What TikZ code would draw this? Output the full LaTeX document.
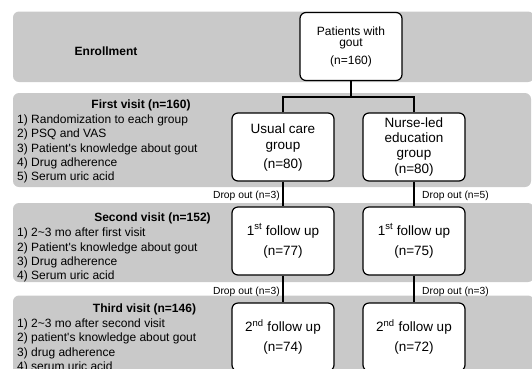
\documentclass[tikz,border=0pt]{standalone}
\usepackage{fontspec}
\setmainfont{Liberation Sans}
\usetikzlibrary{positioning}
\definecolor{bandgray}{RGB}{201,201,201}

\begin{document}
\begin{tikzpicture}[x=1pt, y=-1pt,
  band/.style={fill=bandgray, rounded corners=6pt},
  box/.style={draw, line width=1.2pt, rounded corners=6pt, fill=white, align=center,
    minimum width=102pt, minimum height=68pt, inner sep=1pt,
    font=\fontsize{13.5}{15.5}\selectfont},
  drop/.style={inner sep=1pt, font=\fontsize{10.3}{12}\selectfont},
  visit/.style={anchor=north west, inner sep=0pt, align=left,
    font=\fontsize{12}{14.3}\selectfont},
  vtitle/.style={inner sep=0pt, font=\bfseries\fontsize{12}{14.3}\selectfont}]

\useasboundingbox (0,0) rectangle (532,368);

% grey bands
\fill [band] (13,11.5) rectangle (534,82);
\fill [band] (13,93) rectangle (531,187);
\fill [band] (13,203) rectangle (534,282);
\fill [band] (13,295.5) rectangle (534,380);

% left column
\node [vtitle] (enroll) at (106,51) {Enrollment};

\node [vtitle] (t1) at (141,105.5) {First visit (n=160)};
\node [visit] (v1) at (17,114.5) {1) Randomization to each group\\2) PSQ and VAS\\3) Patient\textquotesingle s knowledge about gout\\4) Drug adherence\\5) Serum uric acid};

\node [vtitle] (t2) at (152.5,218) {Second visit (n=152)};
\node [visit] (v2) at (17,228) {1) 2\textasciitilde3 mo after first visit\\2) Patient\textquotesingle s knowledge about gout\\3) Drug adherence\\4) Serum uric acid};

\node [vtitle] (t3) at (144.5,309) {Third visit (n=146)};
\node [visit] (v3) at (17,318.5) {1) 2\textasciitilde3 mo after second visit\\2) patient\textquotesingle s knowledge about gout\\3) drug adherence\\4) serum uric acid};

% flow boxes
\node [box, font=\fontsize{12}{11}\selectfont] (pat) at (351,46.5) {Patients with\\gout\\[6pt](n=160)};

\node [box, font=\fontsize{13.5}{16}\selectfont] (usual) at (283,147) {Usual care\\group\\[3pt](n=80)};
\node [box, font=\fontsize{13.5}{15}\selectfont] (nurse) at (414,147) {Nurse-led\\education\\group\\[1pt](n=80)};

\node [box] (fu1u) at (283,241) {1\textsuperscript{st} follow up\\[5pt](n=77)};
\node [box] (fu1n) at (414,241) {1\textsuperscript{st} follow up\\[5pt](n=75)};

\node [box] (fu2u) at (283,337) {2\textsuperscript{nd} follow up\\[5pt](n=74)};
\node [box] (fu2n) at (414,337) {2\textsuperscript{nd} follow up\\[5pt](n=72)};

% connectors
\coordinate (split) at (351,97);
\draw [line width=1.2pt] (pat.south) -- (split);
\draw [line width=1.2pt] (usual.north) |- (split) -| (nurse.north);
\draw [line width=1.2pt] (usual) -- (fu1u);
\draw [line width=1.2pt] (nurse) -- (fu1n);
\draw [line width=1.2pt] (fu1u) -- (fu2u);
\draw [line width=1.2pt] (fu1n) -- (fu2n);

% drop outs
\node [drop, anchor=east] (d1u) at (281,196) {Drop out (n=3)};
\node [drop, anchor=west] (d1n) at (421,196) {Drop out (n=5)};
\node [drop, anchor=east] (d2u) at (281,292) {Drop out (n=3)};
\node [drop, anchor=west] (d2n) at (421,292) {Drop out (n=3)};

\end{tikzpicture}
\end{document}
